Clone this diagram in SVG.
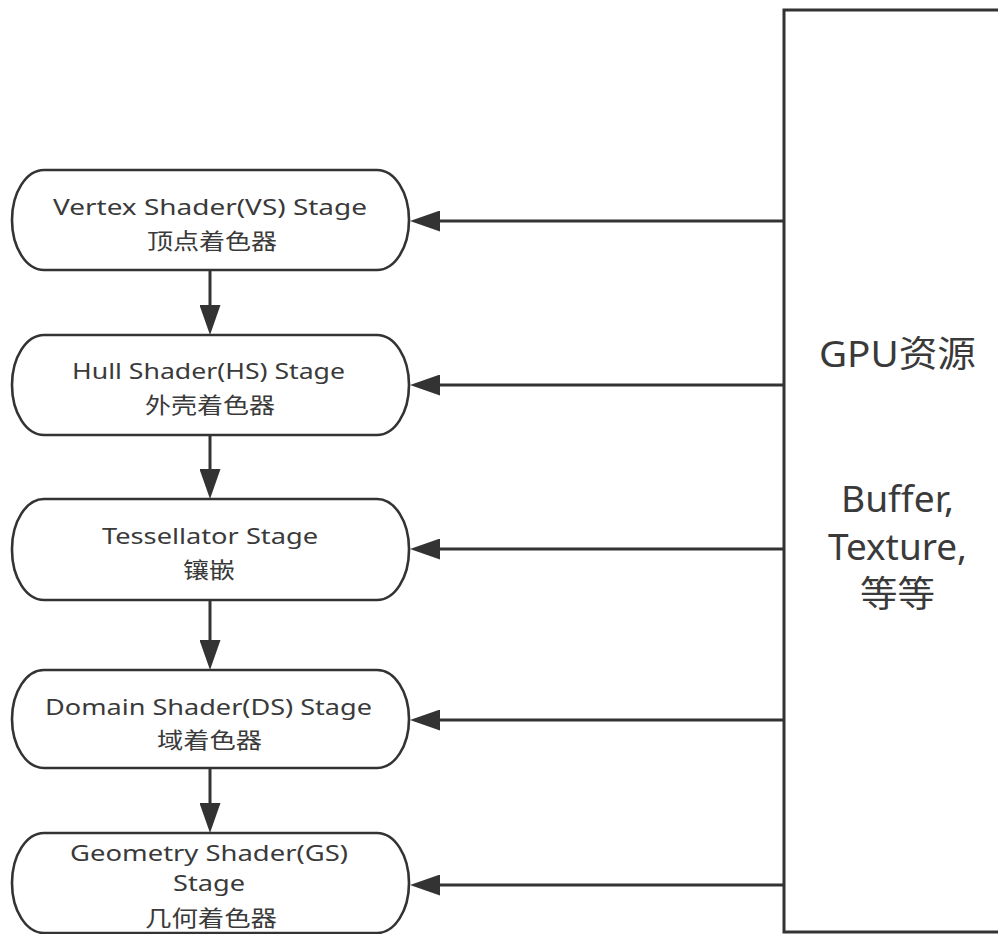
<svg xmlns="http://www.w3.org/2000/svg" width="998" height="934" viewBox="0 0 998 934">
  <style>
    .stage { fill: #ffffff; stroke: #333333; stroke-width: 2.6; }
    .res { fill: #ffffff; stroke: #333333; stroke-width: 3; }
    .link { fill: none; stroke: #333333; stroke-width: 3; marker-end: url(#head); }
    .lbl { font-family: "Noto Sans", "Noto Sans CJK SC", sans-serif; font-size: 22px; fill: #3a3a3a; text-anchor: middle; }
    .big { font-family: "Noto Sans", "Noto Sans CJK SC", sans-serif; font-size: 36px; fill: #3a3a3a; text-anchor: middle; }
  </style>
  <defs>
    <!-- filled triangular head; its base sits on the line end, tip 30px further on -->
    <marker id="head" viewBox="0 0 30 21" refX="0" refY="10.5" markerWidth="30" markerHeight="21" markerUnits="userSpaceOnUse" orient="auto">
      <path d="M0,0 L30,10.5 L0,21 Z" fill="#333333"/>
    </marker>
  </defs>
  <rect width="998" height="934" fill="#ffffff"/>

  <!-- resource block on the right, running past the canvas edge -->
  <g id="gpu-resources">
    <rect class="res" x="784" y="10" width="227" height="922"/>
    <text class="big" x="897.5" y="367" textLength="157" lengthAdjust="spacingAndGlyphs">GPU资源</text>
    <text class="big" x="897.5" y="512" textLength="113" lengthAdjust="spacingAndGlyphs">Buffer,</text>
    <text class="big" x="897.5" y="560" textLength="139" lengthAdjust="spacingAndGlyphs">Texture,</text>
    <text class="big" x="897.5" y="607" textLength="75" lengthAdjust="spacingAndGlyphs">等等</text>
  </g>

  <g id="vs-stage">
    <rect class="stage" x="12" y="170" width="397" height="100" rx="32" ry="50"/>
    <text class="lbl" x="210" y="215" textLength="314" lengthAdjust="spacingAndGlyphs">Vertex Shader(VS) Stage</text>
    <text class="lbl" x="212" y="249" textLength="130" lengthAdjust="spacingAndGlyphs">顶点着色器</text>
  </g>

  <g id="hs-stage">
    <rect class="stage" x="12" y="335" width="397" height="100" rx="32" ry="50"/>
    <text class="lbl" x="208.5" y="379" textLength="273" lengthAdjust="spacingAndGlyphs">Hull Shader(HS) Stage</text>
    <text class="lbl" x="210" y="413" textLength="130" lengthAdjust="spacingAndGlyphs">外壳着色器</text>
  </g>

  <g id="tess-stage">
    <rect class="stage" x="12" y="499" width="397" height="101" rx="32" ry="50"/>
    <text class="lbl" x="210" y="544" textLength="216" lengthAdjust="spacingAndGlyphs">Tessellator Stage</text>
    <text class="lbl" x="209" y="578" textLength="52" lengthAdjust="spacingAndGlyphs">镶嵌</text>
  </g>

  <g id="ds-stage">
    <rect class="stage" x="12" y="670" width="397" height="98" rx="32" ry="49"/>
    <text class="lbl" x="208.5" y="715" textLength="327" lengthAdjust="spacingAndGlyphs">Domain Shader(DS) Stage</text>
    <text class="lbl" x="209.5" y="748" textLength="105" lengthAdjust="spacingAndGlyphs">域着色器</text>
  </g>

  <g id="gs-stage">
    <rect class="stage" x="12" y="833" width="397" height="100" rx="32" ry="50"/>
    <text class="lbl" x="209" y="861" textLength="278" lengthAdjust="spacingAndGlyphs">Geometry Shader(GS)</text>
    <text class="lbl" x="209" y="891" textLength="72" lengthAdjust="spacingAndGlyphs">Stage</text>
    <text class="lbl" x="211" y="926" textLength="132" lengthAdjust="spacingAndGlyphs">几何着色器</text>
  </g>

  <g id="connectors">
    <!-- pipeline order, top to bottom -->
    <path class="link" d="M210,270 V305"/>
    <path class="link" d="M210,435 V469"/>
    <path class="link" d="M210,600 V640"/>
    <path class="link" d="M210,768 V803"/>
    <!-- resources feeding each stage -->
    <path class="link" d="M784,221 H440"/>
    <path class="link" d="M784,385 H440"/>
    <path class="link" d="M784,549 H440"/>
    <path class="link" d="M784,720 H440"/>
    <path class="link" d="M784,885 H440"/>
  </g>
</svg>
